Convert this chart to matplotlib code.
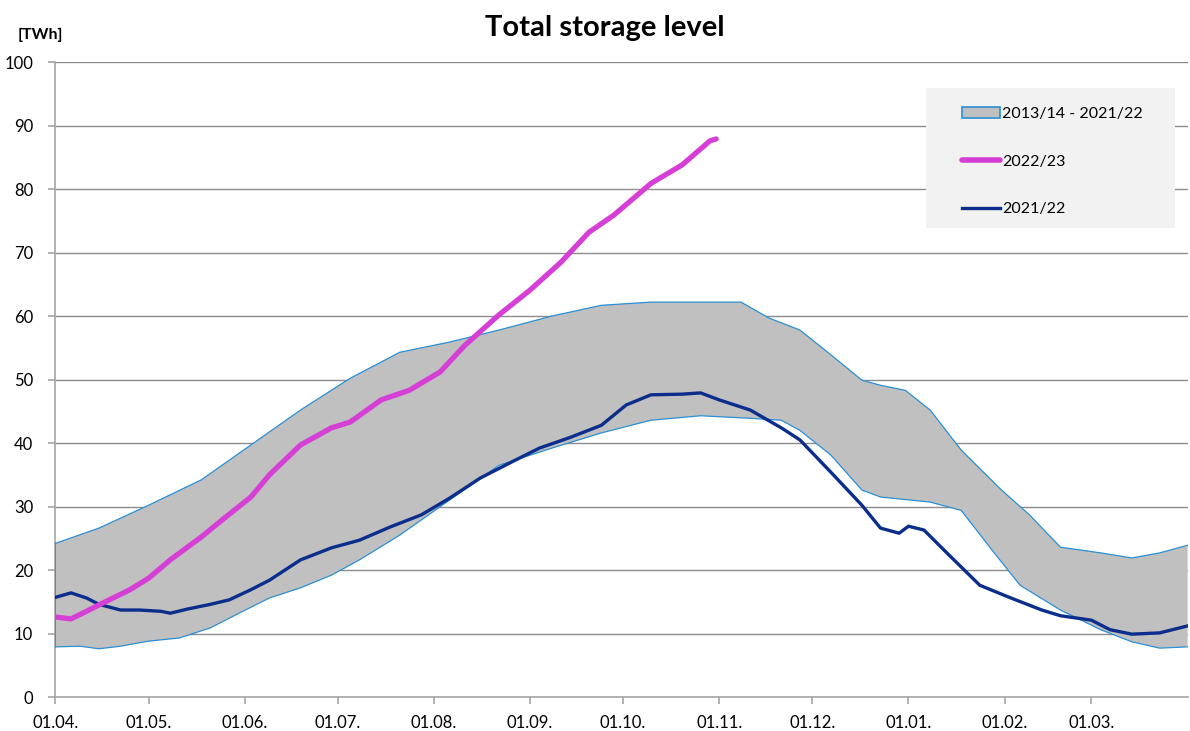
"""
Total storage level chart (gas storage, TWh)
Output: out.png
"""

import matplotlib
matplotlib.use('Agg')
import matplotlib.pyplot as plt
import matplotlib.patches as mpatches
from matplotlib.lines import Line2D
import numpy as np

plt.rcParams['font.family'] = ['Lato', 'DejaVu Sans']

# ── DATA (day index from 01.04.) ────────────────────────────────────────────
band_max_day = [0, 14, 30, 47, 63, 79, 95, 111, 127, 143, 160, 176, 192, 208,
                221, 230, 240, 250, 260, 266, 274, 282, 292, 305, 314, 324,
                337, 347, 356, 365]
band_max_val = [24.2, 26.6, 30.2, 34.2, 39.7, 45.2, 50.2, 54.3, 55.9, 57.8,
                60.0, 61.7, 62.2, 62.2, 62.2, 59.7, 57.8, 53.9, 49.9, 49.1,
                48.3, 45.2, 38.9, 32.6, 28.7, 23.6, 22.7, 21.9, 22.7, 23.9]

band_min_day = [0, 8, 14, 21, 30, 40, 50, 60, 69, 79, 89, 98, 111, 127, 143,
                160, 176, 192, 208, 224, 234, 240, 250, 260, 266, 282, 292,
                302, 311, 324, 337, 347, 356, 365]
band_min_val = [7.9, 8.0, 7.6, 8.0, 8.8, 9.3, 10.9, 13.4, 15.6, 17.2, 19.2,
                21.6, 25.5, 31.0, 36.5, 39.2, 41.6, 43.6, 44.3, 43.9, 43.6,
                42.0, 38.1, 32.6, 31.5, 30.7, 29.4, 23.1, 17.6, 13.7, 10.6,
                8.7, 7.7, 7.9]

y2223_day = [0, 5, 10, 14, 19, 24, 30, 37, 47, 53, 63, 69, 79, 89, 95, 105,
             114, 124, 132, 143, 153, 163, 172, 180, 192, 202, 211, 213]
y2223_val = [12.6, 12.3, 13.5, 14.5, 15.7, 16.9, 18.7, 21.6, 25.2, 27.6, 31.5,
             35.0, 39.7, 42.4, 43.3, 46.8, 48.3, 51.2, 55.4, 60.2, 64.1, 68.5,
             73.2, 75.9, 80.9, 83.8, 87.6, 87.9]

y2122_day = [0, 5, 10, 14, 21, 27, 34, 37, 43, 50, 56, 63, 69, 79, 89, 98,
             108, 118, 127, 137, 147, 156, 166, 176, 184, 192, 202, 208, 214,
             224, 234, 240, 250, 260, 266, 272, 275, 280, 288, 298, 308, 318,
             324, 334, 340, 347, 356, 365]
y2122_val = [15.7, 16.4, 15.6, 14.6, 13.7, 13.7, 13.5, 13.2, 13.9, 14.6, 15.3,
             16.9, 18.4, 21.6, 23.5, 24.7, 26.8, 28.7, 31.3, 34.5, 37.0, 39.2,
             40.9, 42.8, 46.0, 47.6, 47.7, 47.9, 46.8, 45.2, 42.4, 40.5, 35.4,
             30.2, 26.6, 25.8, 26.9, 26.3, 22.4, 17.6, 15.6, 13.7, 12.8, 12.1,
             10.6, 9.9, 10.1, 11.2]

month_days = [0, 30, 61, 91, 122, 153, 183, 214, 244, 275, 306, 334]
month_labels = ['01.04.', '01.05.', '01.06.', '01.07.', '01.08.', '01.09.',
                '01.10.', '01.11.', '01.12.', '01.01.', '01.02.', '01.03.']

# ── STYLE ───────────────────────────────────────────────────────────────────
BAND_FACE = '#c0c0c0'
BAND_EDGE = '#2a8fd4'
MAGENTA   = '#d63fd6'
NAVY      = '#0b2d8c'
GRID      = '#8c8c8c'

fig = plt.figure(figsize=(11.9, 7.31), dpi=100)
ax = fig.add_axes([0.0466, 0.0465, 0.9514, 0.8685])

# band: interpolate both edges onto a common day grid
days = np.arange(0, 366)
lo = np.interp(days, band_min_day, band_min_val)
hi = np.interp(days, band_max_day, band_max_val)
ax.fill_between(days, lo, hi, facecolor=BAND_FACE, edgecolor='none', zorder=2)
ax.plot(band_min_day, band_min_val, color=BAND_EDGE, lw=0.9, zorder=3)
ax.plot(band_max_day, band_max_val, color=BAND_EDGE, lw=0.9, zorder=3)
ax.plot([0, 0], [band_min_val[0], band_max_val[0]], color=BAND_EDGE, lw=1.2, zorder=3)

ax.plot(y2223_day, y2223_val, color=MAGENTA, lw=3.8, solid_capstyle='round', zorder=5)
ax.plot(y2122_day, y2122_val, color=NAVY, lw=2.4, zorder=4)

ax.set_xlim(0, 365)
ax.set_ylim(0, 100)
ax.set_yticks(range(0, 101, 10))
ax.set_xticks(month_days)
ax.set_xticklabels(month_labels)
ax.yaxis.grid(True, color=GRID, lw=1.0, zorder=0)
ax.set_axisbelow(True)

for s in ['top', 'right']:
    ax.spines[s].set_visible(False)
for s in ['left', 'bottom']:
    ax.spines[s].set_color('#a6a6a6')
    ax.spines[s].set_linewidth(1.2)
ax.tick_params(axis='both', colors='#a6a6a6', length=5, width=1.2,
               labelcolor='black', labelsize=12)
ax.tick_params(axis='x', pad=8)
ax.tick_params(axis='y', pad=11)

fig.text(0.508, 0.962, 'Total storage level', ha='center', va='center',
         fontsize=21, fontweight='bold')
fig.text(0.015, 0.952, '[TWh]', ha='left', va='center',
         fontsize=11.5, fontweight='bold')

# legend: own grey box, legend itself without frame
fig.patches.append(mpatches.Rectangle((0.778, 0.688), 0.209, 0.1915,
                                      transform=fig.transFigure,
                                      facecolor='#f2f2f2', edgecolor='none',
                                      zorder=9))
handles = [
    mpatches.Patch(facecolor=BAND_FACE, edgecolor=BAND_EDGE, lw=1.2,
                   label='2013/14 - 2021/22'),
    Line2D([], [], color=MAGENTA, lw=4, solid_capstyle='round', label='2022/23'),
    Line2D([], [], color=NAVY, lw=2.4, label='2021/22'),
]
leg = fig.legend(handles=handles, loc='upper left',
                 bbox_to_anchor=(0.808, 0.854), bbox_transform=fig.transFigure,
                 fontsize=11.5, frameon=False, labelspacing=2.1,
                 borderpad=0, handlelength=2.4, handletextpad=0.15,
                 borderaxespad=0)
leg.set_zorder(10)

plt.savefig('out.png', dpi=100)
plt.close()
